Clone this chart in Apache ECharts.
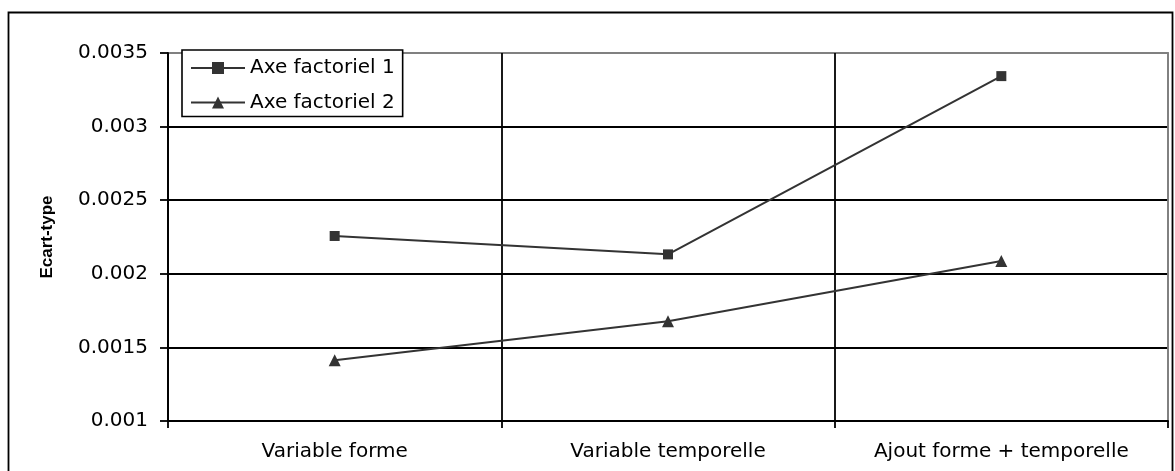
<!DOCTYPE html>
<html>
<head>
<meta charset="utf-8">
<script src="https://cdn.jsdelivr.net/npm/echarts@6/dist/echarts.min.js"></script>
<style>
html,body{margin:0;padding:0;background:#fff;}
#c{width:1175px;height:471px;}
</style>
</head>
<body>
<div id="c"></div>
<script>
var categories = ['Variable forme', 'Variable temporelle', 'Ajout forme + temporelle'];
var axe1 = [0.002257, 0.002132, 0.003343];
var axe2 = [0.001413, 0.001678, 0.002087];
var seriesNames = ['Axe factoriel 1', 'Axe factoriel 2'];
var yTitle = 'Ecart-type';

var FONT = '"DejaVu Sans", "Liberation Sans", Arial, sans-serif';
var TITLE_FONT = '"Liberation Sans", Arial, sans-serif';
var chart = echarts.init(document.getElementById('c'), null, {renderer: 'canvas'});
chart.setOption({
  animation: false,
  backgroundColor: '#fff',
  textStyle: {fontFamily: FONT},
  graphic: [{
    type: 'rect', z: -10, silent: true,
    shape: {x: 8.5, y: 12.5, width: 1164, height: 480},
    style: {fill: 'none', stroke: '#000', lineWidth: 1.8}
  }],
  grid: {left: 168, right: 7, top: 53, bottom: 50, show: true, borderColor: '#808080', borderWidth: 1.8, backgroundColor: 'transparent'},
  legend: {
    left: 182, top: 50,
    orient: 'vertical',
    backgroundColor: '#fff',
    borderColor: '#000', borderWidth: 1.6,
    padding: [8, 8, 4, 8],
    itemGap: 14.5,
    itemWidth: 54, itemHeight: 15,
    textStyle: {fontSize: 20, color: '#000', fontFamily: FONT},
    data: seriesNames
  },
  xAxis: {
    type: 'category',
    data: categories,
    boundaryGap: true,
    axisLine: {lineStyle: {color: '#000', width: 1.8}},
    axisTick: {show: true, length: 7, interval: 0, lineStyle: {color: '#000', width: 1.8}},
    axisLabel: {fontSize: 20, color: '#000', margin: 21, interval: 0, fontFamily: FONT},
    splitLine: {show: true, interval: 0, lineStyle: {color: ['#000', '#000', '#000', '#808080'], width: 1.8}}
  },
  yAxis: {
    type: 'value',
    min: 0.001, max: 0.0035, interval: 0.0005,
    name: yTitle,
    nameLocation: 'middle',
    nameGap: 112,
    nameTextStyle: {fontSize: 17, fontWeight: 'bold', color: '#000', fontFamily: TITLE_FONT},
    axisLine: {show: true, lineStyle: {color: '#000', width: 1.8}},
    axisTick: {show: true, length: 8, lineStyle: {color: '#000', width: 1.8}},
    axisLabel: {fontSize: 20, color: '#000', margin: 20, fontFamily: FONT, padding: [4, 0, 0, 0],
      formatter: function (v) { return String(+v.toFixed(4)); }},
    splitLine: {show: true, lineStyle: {color: ['#000', '#000', '#000', '#000', '#000', '#808080'], width: 1.8}}
  },
  series: [{
    name: seriesNames[0], type: 'line', data: axe1,
    symbol: 'rect', symbolSize: 10,
    itemStyle: {color: '#333'},
    lineStyle: {color: '#333', width: 2}
  }, {
    name: seriesNames[1], type: 'line', data: axe2,
    symbol: 'triangle', symbolSize: 12,
    itemStyle: {color: '#333'},
    lineStyle: {color: '#333', width: 2}
  }]
});
</script>
</body>
</html>
